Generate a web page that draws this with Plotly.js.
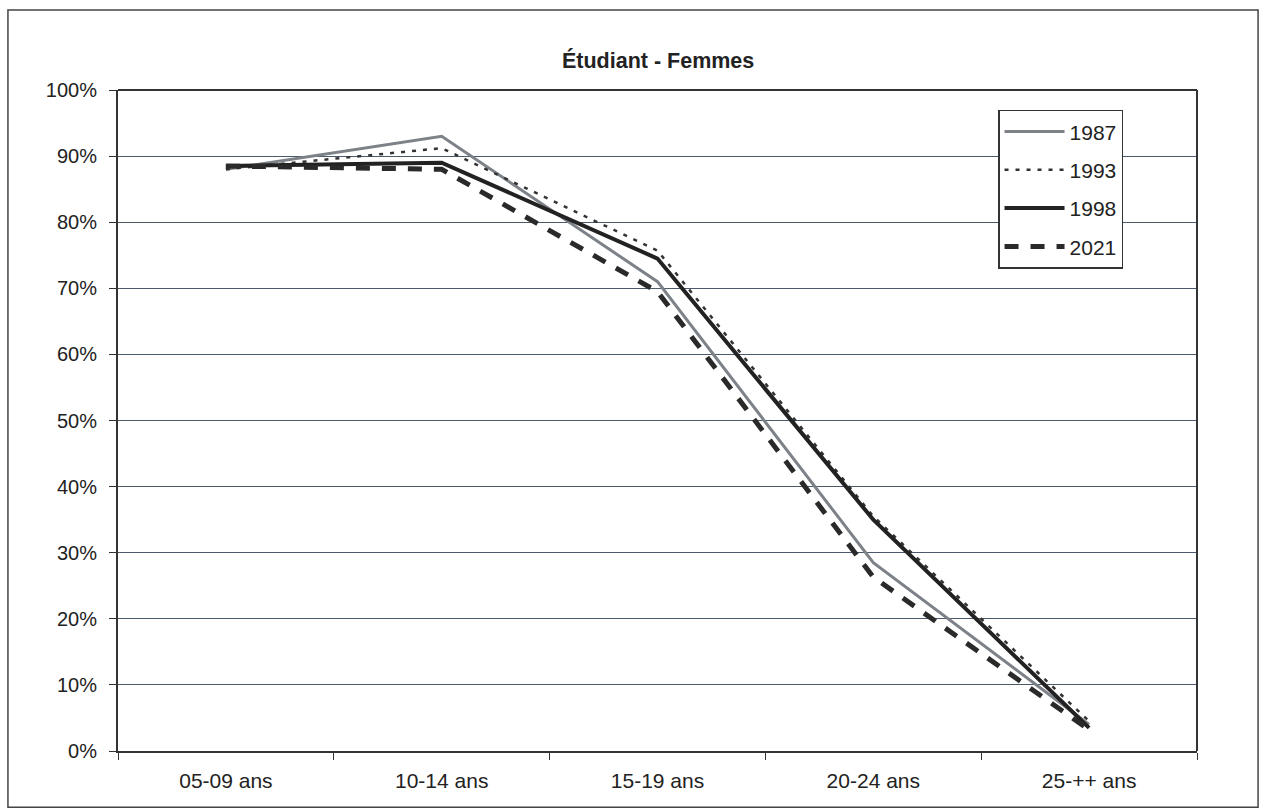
<!DOCTYPE html>
<html><head><meta charset="utf-8">
<script src="https://cdn.plot.ly/plotly-3.0.1.min.js"></script>
<style>html,body{margin:0;padding:0;background:#fff}#chart{width:1262px;height:809px}</style>
</head><body><div id="chart"></div>
<script>
const categories = ["05-09 ans", "10-14 ans", "15-19 ans", "20-24 ans", "25-++ ans"];
const y1987 = [0.88, 0.93, 0.71, 0.285, 0.04];
const y1993 = [0.88, 0.912, 0.757, 0.355, 0.045];
const y1998 = [0.885, 0.89, 0.745, 0.35, 0.035];
const y2021 = [0.885, 0.88, 0.695, 0.263, 0.032];
const seriesNames = ["1987", "1993", "1998", "2021"];

const traces = [
  {x: categories, y: y1987, name: seriesNames[0], legendgroup: "a", mode: "lines", line: {color: "#7d8288", width: 3}},
  {x: categories, y: y1993, name: seriesNames[1], legendgroup: "b", mode: "lines", line: {color: "#333", width: 2.5, dash: "4px,7px"}},
  {x: categories, y: y1998, name: seriesNames[2], legendgroup: "c", mode: "lines", line: {color: "#222", width: 4}},
  {x: categories, y: y2021, name: seriesNames[3], legendgroup: "d", mode: "lines", line: {color: "#2a2a2a", width: 5, dash: "14px,12px"}}
];

const fam = "Liberation Sans, Arial, sans-serif";
const yfont = {family: fam, size: 20, color: "#222"};
const xfont = {family: fam, size: 21, color: "#222"};
const layout = {
  width: 1262, height: 809,
  margin: {l: 118, r: 65, t: 90, b: 58},
  paper_bgcolor: "#fff", plot_bgcolor: "#fff",
  font: yfont,
  title: {text: "<b>Étudiant - Femmes</b>", font: {family: fam, size: 21.5, color: "#222"}, x: 0.5215, xanchor: "center", y: 0.925, yanchor: "middle"},
  xaxis: {
    type: "category", range: [-0.5, 4.5],
    showgrid: false, showline: true, linecolor: "#333", linewidth: 2,
    ticks: "outside", tickson: "boundaries", ticklen: 7, tickcolor: "#333",
    tickfont: xfont, zeroline: false, ticklabelstandoff: 10
  },
  yaxis: {
    range: [0, 1], dtick: 0.1, tickformat: ".0%",
    showgrid: true, gridcolor: "#4a5a6a", gridwidth: 1,
    showline: true, linecolor: "#333", linewidth: 2, mirror: false,
    ticks: "outside", ticklen: 7, tickcolor: "#333",
    tickfont: yfont, zeroline: false, ticklabelstandoff: 8
  },
  showlegend: true,
  legend: {
    x: 0.8156, y: 0.97, xanchor: "left", yanchor: "top",
    bgcolor: "#fff", bordercolor: "#333", borderwidth: 1.5,
    font: {family: fam, size: 21, color: "#222"},
    traceorder: "grouped", tracegroupgap: 8, itemwidth: 60
  },
  shapes: [
    {type: "rect", xref: "paper", yref: "paper", x0: -0.102, x1: 1.0566, y0: -0.085, y1: 1.121,
     line: {color: "#444", width: 1.5}, fillcolor: "rgba(0,0,0,0)", layer: "below"},
    {type: "line", xref: "paper", yref: "paper", x0: 0, x1: 1, y0: 1, y1: 1, line: {color: "#333", width: 2}},
    {type: "line", xref: "paper", yref: "paper", x0: 1, x1: 1, y0: 0, y1: 1, line: {color: "#333", width: 2}}
  ]
};
Plotly.newPlot("chart", traces, layout, {displayModeBar: false, staticPlot: true});
</script>
</body></html>
